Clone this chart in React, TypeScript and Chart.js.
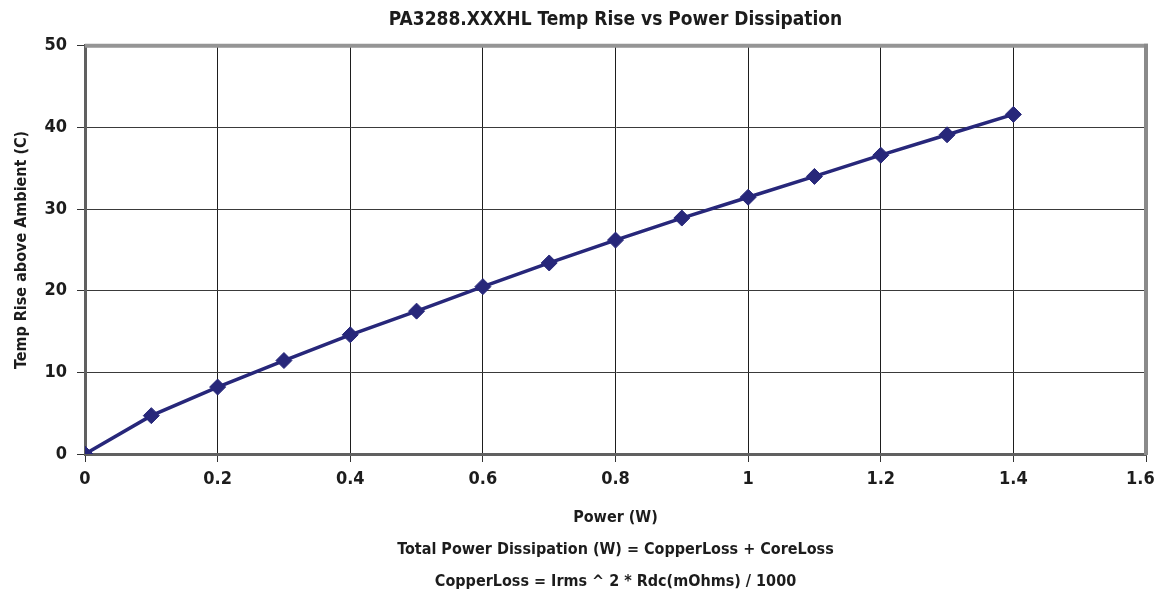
import React, { useEffect, useRef } from 'react';
import { Chart, registerables } from 'chart.js';

Chart.register(...registerables);

const TITLE = 'PA3288.XXXHL Temp Rise vs Power Dissipation';
const X_TITLE_LINES = [
  'Power (W)',
  'Total Power Dissipation (W) = CopperLoss + CoreLoss',
  'CopperLoss = Irms ^ 2 * Rdc(mOhms) / 1000',
];
const Y_TITLE = 'Temp Rise above Ambient (C)';

const powerW = [0, 0.1, 0.2, 0.3, 0.4, 0.5, 0.6, 0.7, 0.8, 0.9, 1.0, 1.1, 1.2, 1.3, 1.4];
const tempRiseC = [0, 4.7, 8.2, 11.45, 14.6, 17.5, 20.5, 23.4, 26.2, 28.9, 31.45, 34.0, 36.6, 39.1, 41.6];

const X_MIN = 0;
const X_MAX = 1.6;
const X_STEP = 0.2;
const Y_MIN = 0;
const Y_MAX = 50;
const Y_STEP = 10;

const FONT = "'Liberation Sans Narrow', 'DejaVu Sans Condensed', 'Arial Narrow', sans-serif";
const TEXT = '#1c1c1c';
const LINE = '#27277a';

const framePlugin = {
  id: 'plotFrame',
  afterDraw(chart: any) {
    const { ctx, chartArea } = chart;
    const { left, right, top, bottom } = chartArea;
    ctx.save();
    ctx.strokeStyle = '#959595';
    ctx.lineWidth = 4;
    ctx.beginPath();
    ctx.moveTo(left, top);
    ctx.lineTo(right + 2, top);
    ctx.stroke();
    ctx.strokeStyle = '#8a8a8a';
    ctx.beginPath();
    ctx.moveTo(right, top - 2);
    ctx.lineTo(right, bottom + 1);
    ctx.stroke();
    ctx.restore();
  },
};

export default function App() {
  const ref = useRef<HTMLCanvasElement | null>(null);

  useEffect(() => {
    document.body.style.margin = '0';
    document.body.style.overflow = 'hidden';
    const canvas = ref.current;
    if (!canvas) return;
    const chart = new Chart(canvas, {
      type: 'line',
      data: {
        datasets: [
          {
            data: powerW.map((x, i) => ({ x, y: tempRiseC[i] })),
            borderColor: LINE,
            backgroundColor: LINE,
            borderWidth: 3.5,
            pointStyle: 'rectRot',
            pointRadius: 8,
            pointBorderWidth: 1,
            pointBackgroundColor: LINE,
            pointBorderColor: LINE,
            tension: 0,
          },
        ],
      },
      options: {
        animation: false,
        responsive: false,
        layout: { padding: { left: 0, right: 12, top: 0, bottom: 0 } },
        plugins: {
          legend: { display: false },
          tooltip: { enabled: false },
          title: {
            display: true,
            fullSize: false,
            text: TITLE,
            color: TEXT,
            font: { family: FONT, size: 19, weight: 'bold', lineHeight: 1.2 },
            padding: { top: 9, bottom: 14 },
          },
        },
        scales: {
          x: {
            type: 'linear',
            min: X_MIN,
            max: X_MAX,
            afterFit: (s: any) => {
              s.height = 142;
              s.paddingRight = 0;
              s.paddingLeft = 0;
            },
            ticks: {
              stepSize: X_STEP,
              color: TEXT,
              padding: 7,
              maxRotation: 0,
              font: { family: FONT, size: 18, weight: 'bold' },
              callback: (v: any) => {
                const s = String(Number(Number(v).toFixed(1)));
                return Number(v) >= X_MAX ? s + '\u2007' : s;
              },
            },
            grid: { color: '#1e1e1e', lineWidth: 1, tickLength: 8, tickColor: '#333' },
            border: { color: '#606060', width: 3 },
            title: {
              display: true,
              text: X_TITLE_LINES,
              color: TEXT,
              font: { family: FONT, size: 16, weight: 'bold', lineHeight: 32 / 16 },
              padding: { top: 0, bottom: -2 },
            },
          },
          y: {
            type: 'linear',
            min: Y_MIN,
            max: Y_MAX,
            afterFit: (s: any) => {
              s.width = 85;
            },
            ticks: {
              stepSize: Y_STEP,
              color: TEXT,
              padding: 10,
              font: { family: FONT, size: 18, weight: 'bold' },
            },
            grid: { color: '#3a3a3a', lineWidth: 1, tickLength: 8, tickColor: '#333' },
            border: { color: '#606060', width: 3 },
            title: {
              display: true,
              text: Y_TITLE,
              color: TEXT,
              font: { family: FONT, size: 16, weight: 'bold', lineHeight: 1.2 },
              padding: { top: 12, bottom: 0 },
            },
          },
        },
      },
      plugins: [framePlugin],
    });
    return () => chart.destroy();
  }, []);

  return (
    <div style={{ width: 1158, height: 596, background: '#fff' }}>
      <canvas ref={ref} width={1158} height={596} style={{ display: 'block' }} />
    </div>
  );
}
